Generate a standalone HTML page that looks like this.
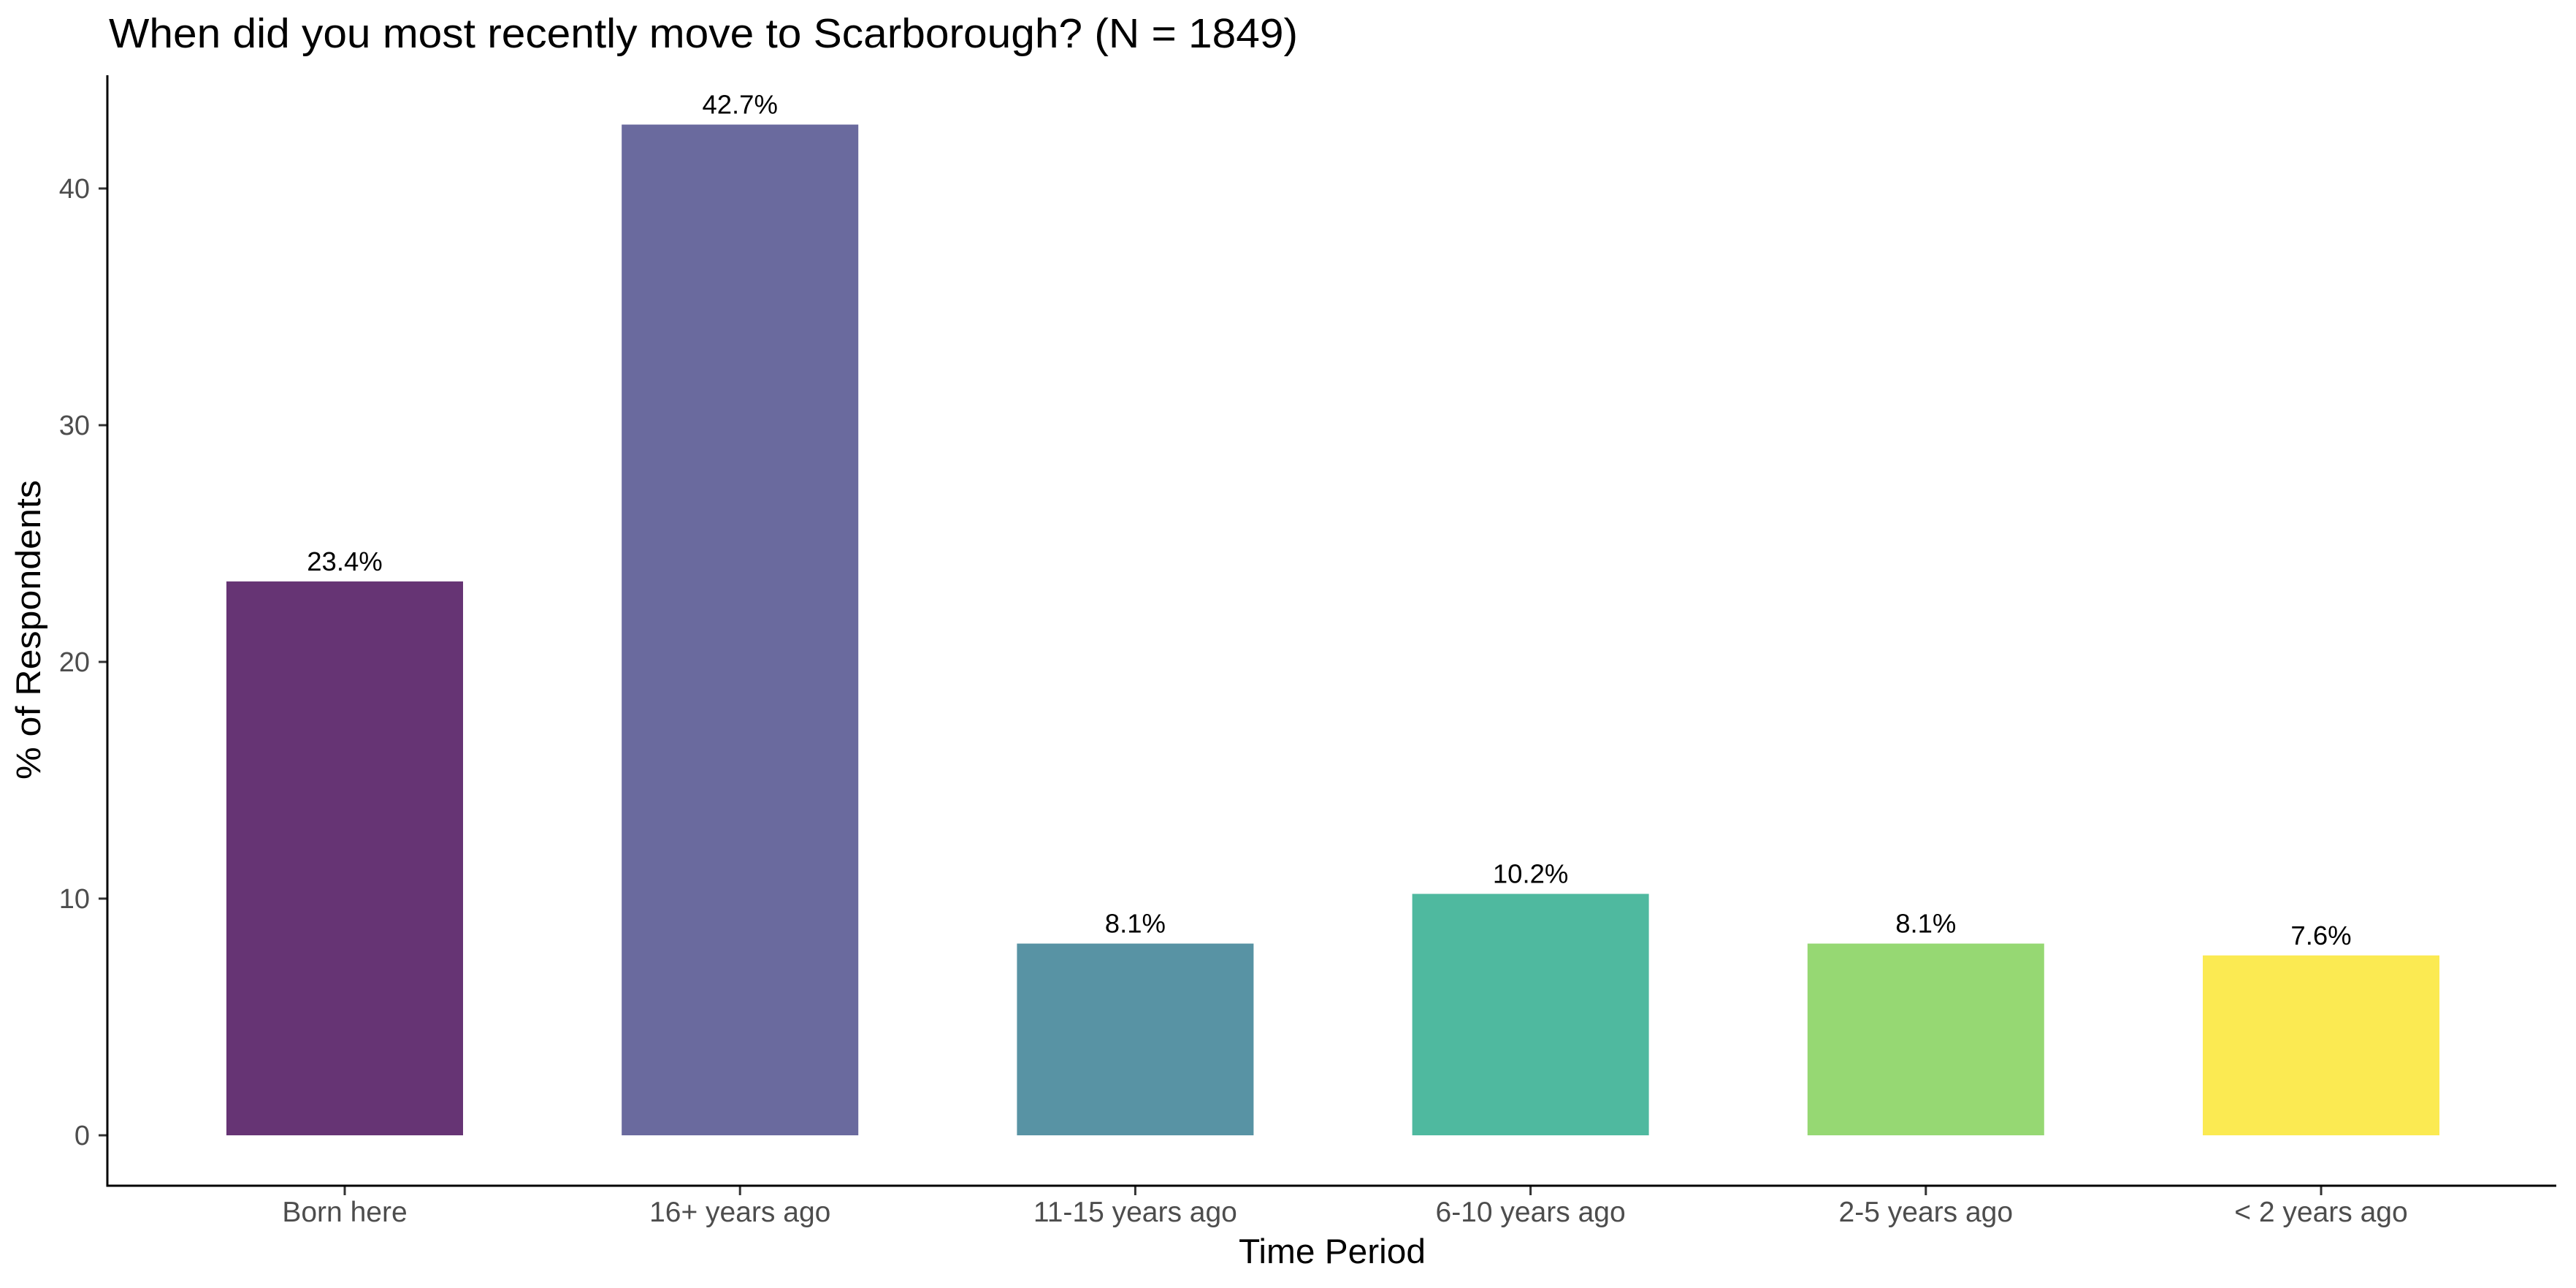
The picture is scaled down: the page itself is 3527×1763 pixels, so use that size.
<!DOCTYPE html>
<html><head><meta charset="utf-8"><style>
html,body{margin:0;padding:0;background:#fff}
svg{display:block;font-family:"Liberation Sans",Arial,sans-serif}
</style></head><body>
<svg id="chart" width="3527" height="1763" viewBox="0 0 3527 1763">
<text x="149" y="65" font-size="57" textLength="1628" lengthAdjust="spacingAndGlyphs" fill="#000">When did you most recently move to Scarborough? (N = 1849)</text>
<g id="plot"></g>
<line x1="147" y1="103" x2="147" y2="1624" stroke="#000" stroke-width="3"/>
<line x1="145.5" y1="1623" x2="3500" y2="1623" stroke="#000" stroke-width="3"/>
<text x="1824" y="1729" font-size="47" textLength="256" lengthAdjust="spacingAndGlyphs" text-anchor="middle" fill="#000">Time Period</text>
<text transform="translate(55,862) rotate(-90)" font-size="47" textLength="410" lengthAdjust="spacingAndGlyphs" text-anchor="middle" fill="#000">% of Respondents</text>
</svg>
<script>
const categories = ["Born here","16+ years ago","11-15 years ago","6-10 years ago","2-5 years ago","< 2 years ago"];
const values = [23.4, 42.7, 8.1, 10.2, 8.1, 7.6];
const valueLabels = ["23.4%","42.7%","8.1%","10.2%","8.1%","7.6%"];
const colors = ["#663474","#6a6a9e","#5893a4","#4fb99f","#96d873","#fbea52"];
const yTicks = [0,10,20,30,40];

const svg = document.getElementById('plot');
const NS = "http://www.w3.org/2000/svg";
const y = v => 1554 - v * 32.4;
const xc = i => 472 + i * 541.2;
const bw = 324;
function mk(tag, attrs){const e=document.createElementNS(NS,tag);for(const k in attrs)e.setAttribute(k,attrs[k]);svg.appendChild(e);return e;}

yTicks.forEach(t=>{
  const l = mk('line',{x1:135,x2:147,y1:y(t),y2:y(t),stroke:'#333','stroke-width':3});
  
  
  const tx = mk('text',{x:123,y:y(t)+13,'font-size':38,'text-anchor':'end',fill:'#4d4d4d'});
  tx.textContent = t;
  
  
});

categories.forEach((c,i)=>{
  const r = mk('rect',{x:xc(i)-bw/2,y:y(values[i]),width:bw,height:y(0)-y(values[i]),fill:colors[i]});
  
  
  const lb = mk('text',{x:xc(i),y:y(values[i])-15,'font-size':36.5,'text-anchor':'middle',fill:'#000'});
  lb.textContent = valueLabels[i];
  
  
  const tk = mk('line',{x1:xc(i),x2:xc(i),y1:1624,y2:1636,stroke:'#333','stroke-width':3});
  
  
  const tl = mk('text',{x:xc(i),y:1672,'font-size':39,'text-anchor':'middle',fill:'#4d4d4d'});
  tl.textContent = c;
  
  
});
</script>
</body></html>
